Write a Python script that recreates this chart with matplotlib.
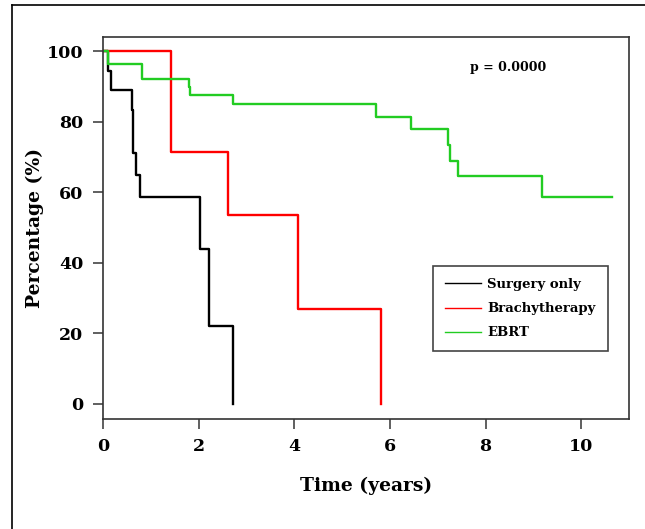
import matplotlib
matplotlib.use("Agg")
import matplotlib.pyplot as plt
from matplotlib.lines import Line2D

# Kaplan-Meier style step data
surgery_t = [0, 0.10, 0.17, 0.60, 0.62, 0.68, 0.77, 2.03, 2.22, 2.71]
surgery_s = [100, 94.4, 88.9, 83.3, 71.0, 65.0, 58.7, 44.0, 22.0, 0]

brachy_t = [0, 1.42, 2.62, 4.08, 5.82]
brachy_s = [100, 71.3, 53.5, 26.8, 0]

ebrt_t = [0, 0.10, 0.81, 1.80, 1.82, 2.72, 5.71, 6.44, 7.21, 7.26, 7.42, 9.19, 10.65]
ebrt_s = [100, 96.3, 92.0, 89.9, 87.6, 84.9, 81.4, 77.8, 73.4, 68.9, 64.7, 58.7, 58.7]

labels = ["Surgery only", "Brachytherapy", "EBRT"]
colors = ["black", "#ff0000", "#22cc22"]
x_ticks = [0, 2, 4, 6, 8, 10]
y_ticks = [0, 20, 40, 60, 80, 100]

plt.rcParams['font.family'] = ['DejaVu Serif']
plt.rcParams['font.weight'] = 'bold'

fig = plt.figure(figsize=(6.45, 5.29), dpi=100)
ax = fig.add_axes([0.1597, 0.2079, 0.8155, 0.7222])

for t, s, c in zip([surgery_t, brachy_t, ebrt_t], [surgery_s, brachy_s, ebrt_s], colors):
    ax.step(t, s, where='post', color=c, lw=1.7)

ax.set_xlim(0, 11)
ax.set_ylim(-4.3, 104)
ax.set_xticks(x_ticks)
ax.set_yticks(y_ticks)
ax.tick_params(direction='out', length=7, width=1.2, labelsize=12.5, pad=7, color='#444444')
for lab in ax.get_xticklabels() + ax.get_yticklabels():
    lab.set_fontweight('bold')
for sp in ax.spines.values():
    sp.set_linewidth(1.2)
    sp.set_color('#333333')

ax.set_xlabel("Time (years)", fontsize=13.5, fontweight='bold', labelpad=15)
ax.set_ylabel("Percentage (%)", fontsize=13.5, fontweight='bold', labelpad=2)

ax.text(0.77, 0.921, "p = 0.0000", transform=ax.transAxes, ha='center', va='center',
        fontsize=9, fontweight='bold')

handles = [Line2D([0], [0], color=c, lw=1) for c in colors]
leg = ax.legend(handles, labels, loc='lower right', bbox_to_anchor=(0.972, 0.16),
                fancybox=False, edgecolor='#444444', framealpha=1,
                prop={'size': 9.5, 'weight': 'bold'}, handlelength=2.7,
                handletextpad=0.5, borderpad=0.9, labelspacing=0.85)
leg.get_frame().set_linewidth(1.2)

# partial outer frame of the original figure panel
fig.add_artist(Line2D([12 / 645, 1], [1 - 5 / 529, 1 - 5 / 529], color='black', lw=1.2,
                      transform=fig.transFigure))
fig.add_artist(Line2D([12 / 645, 12 / 645], [0, 1 - 5 / 529], color='black', lw=1.2,
                      transform=fig.transFigure))

fig.savefig("out.png", dpi=100)
